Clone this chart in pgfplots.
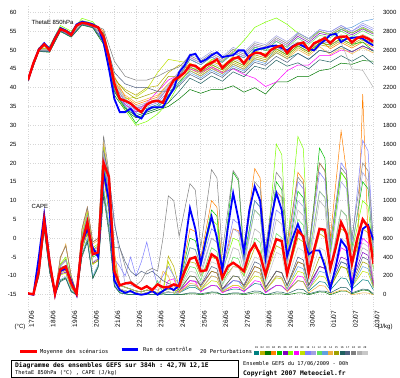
\documentclass[border=0pt]{standalone}
\usepackage{fontspec}
\setmainfont{Liberation Sans}
\setmonofont{DejaVu Sans Mono}
\usepackage{pgfplots}
\pgfplotsset{compat=1.18}
\usepackage{pgfplotstable}

\definecolor{c1}{HTML}{008080}
\definecolor{c2}{HTML}{B8B000}
\definecolor{c3}{HTML}{007800}
\definecolor{c4}{HTML}{FF8000}
\definecolor{c5}{HTML}{00C000}
\definecolor{c6}{HTML}{8000C0}
\definecolor{c7}{HTML}{80FF00}
\definecolor{c8}{HTML}{FF00FF}
\definecolor{c9}{HTML}{C0E000}
\definecolor{c10}{HTML}{8080FF}
\definecolor{c11}{HTML}{A0A0E0}
\definecolor{c12}{HTML}{60E060}
\definecolor{c13}{HTML}{60A0E0}
\definecolor{c14}{HTML}{F0B040}
\definecolor{c15}{HTML}{A0A000}
\definecolor{c16}{HTML}{206060}
\definecolor{c17}{HTML}{506080}
\definecolor{c18}{HTML}{808080}
\definecolor{c19}{HTML}{B0B0B0}
\definecolor{c20}{HTML}{C8C8C8}

% ThetaE 850hPa: mean (m) and control run (c), every 6 h
\pgfplotstableread{
s m c
0 42 42
1 46.5 46.5
2 50 50.2
3 51.5 51.8
4 50 50.3
5 53 53.3
6 55.5 55.8
7 55 55.2
8 54 54.2
9 56.5 56.8
10 57.2 57.5
11 57 57.2
12 56.5 56.8
13 56 56
14 53.5 52
15 48 45
16 41 37
17 37 33.5
18 36.5 33.5
19 35.8 34.4
20 34.5 32.5
21 33.5 31.8
22 35.5 34
23 36.3 34.8
24 36.5 34.8
25 36 34.8
26 39.5 37.5
27 42 39.7
28 42.8 44.1
29 44 45.9
30 46 48.6
31 45.8 49
32 44.6 46.8
33 45.9 47.5
34 46.6 48.6
35 47.5 49.4
36 45.2 48.1
37 46.6 48.4
38 47.7 48.6
39 48.1 49.9
40 46.4 49.9
41 48.4 47.7
42 49.2 49.9
43 49.2 50.3
44 48.4 50.6
45 50 51
46 50.8 51.2
47 51.2 50.5
48 49.2 49.9
49 50.8 51
50 51.6 51.7
51 52 51
52 50 50.3
53 51.8 49.9
54 52.4 51.5
55 53.2 52.6
56 51.8 54
57 53.2 54.3
58 53.5 52.1
59 53.6 53
60 52 53.2
61 53.2 53.4
62 53.6 53
63 53 52
64 52.2 51.2
}\thetaMC

% ThetaE 850hPa: 20 perturbations, every 12 h
\pgfplotstableread{
s p1 p2 p3 p4 p5 p6 p7 p8 p9 p10 p11 p12 p13 p14 p15 p16 p17 p18 p19 p20
0 41.9 42.1 41.8 42.2 41.9 42.1 42.3 41.9 42.1 42.1 42 42.2 41.9 42.1 42 41.8 42 42.1 42 42
2 49.8 50.2 49.6 50.3 49.9 50.1 50.6 49.8 50.2 50.1 49.9 50.4 49.8 50.2 50 49.7 50 50.1 50 50.1
4 49.7 50.3 49.4 50.5 49.8 50.2 51 49.7 50.4 50.2 49.9 50.6 49.6 50.3 50 49.5 50 50.2 50 50.1
6 55.2 55.8 54.9 56 55.3 55.7 56.5 55.2 55.9 55.7 55.4 56.1 55.1 55.8 55.5 55 55.5 55.7 55.5 55.6
8 53.7 54.3 53.4 54.5 53.8 54.2 55 53.7 54.4 54.2 53.9 54.6 53.6 54.3 54 53.5 54 54.2 54 54.1
10 56.9 57.5 56.6 57.7 57 57.4 58.4 56.9 57.6 57.4 57.1 57.8 56.8 57.5 57.2 56.7 57.2 57.4 57.2 57.3
12 56.2 56.8 55.9 57 56.3 56.7 57.5 56.2 56.9 56.7 56.4 57.1 56.1 56.8 56.5 56 56.5 56.7 56.5 56.6
14 52.5 54 51.5 55 52.5 53.5 54 52.5 54.5 53.5 54 53 52.5 54 53.5 52 54.5 55.5 53.5 54
16 40 42 38 43 39 40.5 39 39.5 41.5 41 42 39.5 39 41.5 42.5 39 44 47 40.5 41
18 35.5 39.5 34 37.5 35 36.5 34 35.5 37 36 37 34.5 35 38 39 34.5 41 43 36.5 37
20 33.5 38 32 35.5 30.5 34.5 30 33.5 37.5 34 35 32.5 33 36 37 32.5 40 42 34.5 35
22 34.5 40 33 36.5 34 35.5 31 36 39.5 35 36 33.5 34 37 38 33.5 40 42 35.5 36
24 35.5 40.5 34 37.5 35 36.5 33 39 44 36 37 34.5 35 38 39 34.5 39 43 36.5 37
26 38 44 35 41 37 40 36 42 47.5 39 40.5 38 37.5 41 43 36 39 44.5 40 41
28 41.5 46 37 43.5 43 44 41 43.5 47 43 44.5 42.5 41 42 43 39 40.5 45.5 43 44
30 44.5 45 39.5 46.5 47.5 48 45 45 46.5 47.5 49 45.5 44 44.5 45.5 42.5 43.5 48.5 46 48
32 43.1 43.6 38.5 45.1 46.1 46.6 45 44 45.1 46.1 47.6 44.1 42.6 43.1 44.1 41.1 42.1 47.1 44.6 46.6
34 45.1 45.6 39.5 47.1 48.1 48.6 47.5 45.5 47.1 48.1 49.6 46.1 44.6 45.1 46.1 43.1 44.1 49.1 46.6 48.6
36 43.7 44.2 39.5 45.7 46.7 47.2 47 44 45.7 46.7 48.2 44.7 43.2 43.7 44.7 41.7 42.7 47.7 45.2 47.2
38 46.2 46.7 40.5 48.2 49.2 49.7 49.5 45 48.2 49.2 50.7 47.2 45.7 46.2 47.2 44.2 45.2 50.2 47.7 49.7
40 44.9 45.4 38.8 46.9 47.9 48.4 52.5 43.5 46.9 47.9 49.4 45.9 44.4 44.9 45.9 42.9 43.9 48.9 46.4 48.4
42 47.7 48.2 40 49.7 50.7 51.2 56 42.5 49.7 50.7 52.2 50.7 47.2 47.7 48.7 45.7 46.7 51.7 49.2 51.2
44 46.9 47.4 38.3 48.9 49.9 50.4 57.4 40.3 48.9 49.9 51.4 49.9 46.4 46.9 47.9 44.9 45.9 50.9 48.4 50.4
46 49.3 49.8 41.5 51.3 50.3 52.8 58.5 41.5 51.3 52.3 53.8 52.3 50.8 49.3 50.3 47.3 48.3 53.3 50.8 52.8
48 47.7 48.2 41.5 49.7 48.7 51.2 56.8 44.5 49.7 50.7 52.2 50.7 49.2 47.7 48.7 45.7 46.7 51.7 49.2 51.2
50 49.1 50.6 43 52.1 51.1 53.6 54.5 46 52.1 54.6 54.6 53.1 51.6 50.1 51.1 46.6 49.1 54.1 51.6 52.1
52 47.5 49 43 50.5 49.5 52 53 46 50.5 53 53 51.5 50 48.5 49.5 45 47.5 52.5 50 50.5
54 49.9 51.4 44.5 52.9 51.9 54.4 55 48.5 52.9 55.4 55.4 53.9 52.4 50.9 51.9 47.4 49.9 54.9 52.4 52.9
56 49.3 50.8 45 50.3 51.3 53.8 54 48.5 52.3 54.8 54.8 53.3 51.8 48.8 51.3 46.8 49.3 54.3 51.8 52.3
58 51 52.5 46.5 52 53 55.5 55.5 50 54 56.5 56.5 55 55.5 50.5 53 48.5 51 56 52 54
60 49.5 51 46.2 50.5 51.5 54 54.5 49.5 52.5 55 55 53.5 56 49 51.5 47 49.5 54.5 45 52.5
62 51.1 52.6 47.2 52.1 52.1 55.6 55.8 51 54.1 56.6 57.1 55.1 57.6 50.6 53.1 48.6 51.1 56.1 44.6 54.1
64 49.7 51.2 47 50.7 49.7 54.2 54.5 50 52.7 55.2 55.7 53.7 58.2 49.2 51.7 46.2 49.7 54.7 40 52.7
}\thetaP

% CAPE: mean (m) and control run (c), every 6 h
\pgfplotstableread{
s m c
0 15 10
1 5 0
2 250 400
3 790 850
4 350 350
5 10 0
6 270 250
7 300 280
8 120 150
9 10 0
10 550 550
11 770 700
12 430 500
13 450 400
14 1400 1300
15 1250 1000
16 250 150
17 100 50
18 120 20
19 130 40
20 90 10
21 60 0
22 90 10
23 50 40
24 110 0
25 80 40
26 80 80
27 110 50
28 90 100
29 250 500
30 380 920
31 400 700
32 250 330
33 260 600
34 430 830
35 390 600
36 180 260
37 300 700
38 340 1080
39 300 800
40 250 450
41 450 900
42 540 1150
43 420 1000
44 210 400
45 420 800
46 590 1080
47 570 900
48 220 410
49 450 600
50 680 750
51 620 600
52 230 430
53 480 470
54 700 470
55 690 300
56 280 60
57 500 300
58 770 580
59 650 500
60 330 70
61 600 400
62 800 700
63 720 740
64 330 580
}\capeMC

\pgfplotsset{
  pert/.style={line width=0.5pt, mark=none},
  capeline/.style={table/header=false, table/row sep=\\, table/x expr=\coordindex, table/y index=0},
  common/.style={
    at={(28pt,52pt)}, anchor=south west, scale only axis,
    width=345.5pt, height=321.2pt,
    xmin=0, xmax=64,
    axis line style={draw=none},
    major tick length=0pt,
    tick label style={font=\fontsize{6}{7}\selectfont},
  },
}

\begin{document}
\begin{tikzpicture}
\fill[white] (0pt,0pt) rectangle (400pt,378pt);

\begin{axis}[
  common,
  ymin=-23.3, ymax=62,
  xtick={0,4,...,64}, xticklabel=\empty,
  ytick={-15,-10,...,60},
  xmajorgrids, ymajorgrids,
  grid style={gray!32, dotted, line width=0.6pt},
  ytick pos=left, yticklabel pos=left,
  yticklabel style={/pgf/number format/assume math mode=true, xshift=-8pt},
]
\pgfplotsinvokeforeach{1,...,20}{
  \addplot[pert, draw=c#1] table[x=s, y=p#1] {\thetaP};
}
\addplot[blue, line width=1.8pt] table[x=s, y=c] {\thetaMC};
\addplot[red, line width=2.4pt] table[x=s, y=m] {\thetaMC};
\end{axis}

\begin{axis}[
  common,
  ymin=-332, ymax=3080,
  xtick=\empty,
  ytick={0,200,...,3000},
  ytick pos=right, yticklabel pos=right,
  yticklabel style={/pgf/number format/assume math mode=true, /pgf/number format/1000 sep={}, xshift=6pt},
]
\addplot[pert, draw=c1] table[capeline] {15\\5\\240\\800\\340\\10\\260\\280\\100\\10\\560\\760\\420\\440\\1450\\1050\\240\\60\\40\\30\\20\\10\\20\\30\\10\\20\\30\\20\\20\\50\\80\\76\\40\\70\\100\\93\\30\\45\\60\\58\\40\\80\\120\\111\\30\\65\\100\\94\\40\\95\\150\\139\\40\\90\\140\\131\\50\\115\\180\\168\\60\\110\\160\\149\\50\\};
\addplot[pert, draw=c2] table[capeline] {15\\5\\260\\830\\360\\10\\320\\380\\160\\10\\620\\850\\480\\520\\1550\\1150\\350\\100\\80\\60\\40\\30\\50\\40\\20\\40\\410\\300\\80\\215\\350\\335\\200\\300\\400\\375\\150\\225\\300\\290\\200\\350\\500\\468\\180\\350\\520\\488\\200\\400\\600\\560\\200\\425\\650\\610\\250\\475\\700\\660\\300\\500\\700\\658\\280\\};
\addplot[pert, draw=c3] table[capeline] {15\\0\\200\\700\\250\\0\\150\\180\\40\\0\\420\\580\\180\\300\\1100\\700\\100\\20\\10\\0\\0\\0\\10\\0\\0\\10\\0\\0\\0\\5\\10\\9\\0\\10\\20\\18\\0\\5\\10\\9\\0\\10\\20\\18\\0\\5\\10\\9\\0\\10\\20\\18\\0\\15\\30\\27\\0\\20\\40\\37\\10\\30\\50\\45\\0\\};
\addplot[pert, draw=c4] table[capeline] {15\\5\\280\\880\\380\\10\\400\\520\\200\\20\\700\\930\\560\\600\\1550\\1200\\450\\100\\80\\60\\40\\30\\50\\40\\20\\40\\60\\50\\100\\400\\700\\670\\400\\700\\1000\\930\\300\\500\\700\\680\\500\\920\\1340\\1241\\350\\725\\1100\\1035\\450\\875\\1300\\1220\\500\\950\\1400\\1320\\600\\1170\\1740\\1300\\200\\400\\2130\\600\\100\\};
\addplot[pert, draw=c5] table[capeline] {15\\5\\230\\790\\330\\10\\250\\270\\90\\10\\540\\720\\400\\430\\1400\\1000\\220\\100\\80\\60\\40\\30\\50\\40\\20\\40\\60\\50\\100\\350\\600\\575\\350\\625\\900\\835\\250\\775\\1300\\1210\\400\\700\\1000\\930\\300\\750\\1200\\1115\\350\\725\\1100\\1030\\400\\980\\1560\\1449\\450\\875\\1300\\1220\\500\\850\\1200\\1125\\450\\};
\addplot[pert, draw=c6] table[capeline] {15\\0\\230\\760\\300\\0\\220\\240\\80\\0\\500\\680\\340\\380\\1300\\900\\180\\60\\40\\30\\20\\10\\20\\30\\10\\20\\30\\20\\40\\95\\150\\145\\100\\175\\250\\231\\60\\105\\150\\145\\100\\200\\300\\278\\80\\165\\250\\235\\100\\225\\350\\325\\100\\200\\300\\282\\120\\260\\400\\375\\150\\300\\450\\418\\130\\};
\addplot[pert, draw=c7] table[capeline] {15\\5\\270\\850\\370\\10\\330\\400\\170\\10\\640\\880\\500\\540\\1600\\1180\\330\\20\\10\\0\\0\\0\\10\\0\\0\\10\\0\\0\\80\\290\\500\\480\\300\\550\\800\\745\\250\\425\\600\\575\\350\\625\\900\\840\\300\\950\\1600\\1490\\500\\1090\\1680\\1552\\400\\750\\1100\\1035\\450\\875\\1300\\1215\\450\\725\\1000\\940\\400\\};
\addplot[pert, draw=c8] table[capeline] {15\\5\\250\\820\\350\\10\\270\\250\\110\\10\\580\\780\\440\\460\\1500\\1080\\260\\60\\40\\30\\20\\10\\20\\30\\10\\20\\150\\170\\20\\85\\150\\138\\30\\65\\100\\92\\20\\50\\80\\75\\30\\90\\150\\137\\20\\60\\100\\94\\40\\120\\200\\186\\60\\180\\300\\278\\80\\290\\500\\465\\150\\375\\600\\550\\100\\};
\addplot[pert, draw=c9] table[capeline] {15\\0\\220\\740\\290\\0\\210\\230\\70\\0\\490\\660\\320\\370\\1250\\880\\170\\60\\40\\30\\20\\10\\20\\30\\10\\20\\350\\200\\30\\65\\100\\95\\50\\100\\150\\139\\40\\70\\100\\96\\60\\130\\200\\185\\50\\115\\180\\168\\60\\155\\250\\231\\60\\130\\200\\187\\70\\185\\300\\278\\80\\165\\250\\232\\70\\};
\addplot[pert, draw=c10] table[capeline] {15\\5\\255\\820\\355\\10\\310\\370\\150\\10\\610\\840\\470\\510\\1530\\1130\\380\\300\\200\\400\\200\\350\\560\\300\\100\\200\\300\\200\\100\\300\\500\\480\\300\\500\\700\\655\\250\\525\\800\\755\\350\\675\\1000\\930\\300\\600\\900\\850\\400\\800\\1200\\1125\\450\\875\\1300\\1220\\500\\950\\1400\\1315\\550\\1095\\1640\\1526\\500\\};
\addplot[pert, draw=c11] table[capeline] {15\\5\\250\\810\\350\\10\\280\\300\\130\\10\\560\\800\\450\\470\\1500\\1250\\800\\400\\120\\100\\80\\60\\90\\70\\50\\80\\100\\80\\80\\240\\400\\385\\250\\425\\600\\560\\200\\450\\700\\660\\300\\600\\900\\840\\300\\700\\1100\\1025\\350\\675\\1000\\935\\350\\725\\1100\\1030\\400\\800\\1200\\1125\\450\\875\\1300\\1210\\400\\};
\addplot[pert, draw=c12] table[capeline] {15\\5\\240\\810\\340\\10\\260\\290\\100\\10\\600\\790\\430\\450\\1380\\1000\\230\\60\\40\\30\\20\\10\\20\\30\\150\\20\\30\\20\\60\\180\\300\\285\\150\\325\\500\\460\\100\\250\\400\\380\\200\\400\\600\\555\\150\\400\\650\\605\\200\\500\\800\\740\\200\\450\\700\\655\\250\\575\\900\\840\\300\\550\\800\\745\\250\\};
\addplot[pert, draw=c13] table[capeline] {15\\0\\210\\720\\260\\0\\160\\190\\50\\0\\440\\600\\200\\320\\1150\\750\\110\\20\\10\\0\\0\\0\\10\\0\\0\\10\\0\\0\\20\\60\\100\\96\\60\\130\\200\\184\\40\\95\\150\\141\\60\\155\\250\\230\\50\\125\\200\\186\\60\\180\\300\\276\\60\\155\\250\\233\\80\\215\\350\\323\\80\\190\\300\\277\\70\\};
\addplot[pert, draw=c14] table[capeline] {15\\5\\270\\860\\370\\10\\380\\540\\190\\20\\680\\900\\540\\580\\1620\\1250\\450\\60\\40\\30\\20\\10\\20\\30\\10\\250\\200\\20\\20\\70\\120\\113\\50\\125\\200\\183\\30\\65\\100\\95\\50\\150\\250\\229\\40\\120\\200\\183\\30\\90\\150\\137\\20\\60\\100\\91\\10\\30\\50\\45\\0\\10\\20\\18\\0\\};
\addplot[pert, draw=c15] table[capeline] {15\\0\\225\\750\\295\\0\\230\\260\\90\\0\\480\\650\\330\\360\\1280\\870\\170\\100\\80\\60\\40\\30\\50\\40\\20\\40\\60\\50\\40\\120\\200\\188\\80\\165\\250\\231\\60\\130\\200\\188\\80\\190\\300\\277\\70\\160\\250\\234\\90\\220\\350\\325\\100\\250\\400\\368\\80\\190\\300\\279\\90\\220\\350\\323\\80\\};
\addplot[pert, draw=c16] table[capeline] {15\\0\\190\\690\\240\\0\\140\\170\\30\\0\\400\\560\\170\\290\\1050\\650\\90\\20\\10\\0\\0\\0\\10\\0\\0\\10\\0\\0\\0\\10\\20\\19\\10\\20\\30\\27\\0\\10\\20\\19\\10\\25\\40\\36\\0\\15\\30\\28\\10\\35\\60\\55\\10\\25\\40\\38\\20\\50\\80\\74\\20\\40\\60\\55\\10\\};
\addplot[pert, draw=c17] table[capeline] {15\\5\\245\\800\\340\\10\\290\\310\\140\\10\\570\\820\\460\\480\\1520\\1280\\750\\500\\350\\250\\200\\250\\220\\250\\200\\150\\120\\100\\50\\125\\200\\190\\100\\200\\300\\276\\60\\130\\200\\190\\100\\225\\350\\323\\80\\165\\250\\235\\100\\250\\400\\370\\100\\200\\300\\280\\100\\225\\350\\327\\120\\260\\400\\370\\100\\};
\addplot[pert, draw=c18] table[capeline] {15\\5\\280\\880\\380\\10\\400\\520\\200\\20\\700\\930\\560\\600\\1690\\1300\\500\\500\\300\\150\\100\\150\\250\\280\\250\\600\\1050\\1000\\620\\900\\1180\\1112\\500\\915\\1330\\1242\\450\\885\\1320\\1233\\450\\825\\1200\\1130\\500\\900\\1300\\1225\\550\\900\\1250\\1175\\500\\950\\1400\\1315\\550\\950\\1350\\1275\\600\\1000\\1400\\1315\\550\\};
\addplot[pert, draw=c19] table[capeline] {15\\5\\250\\820\\350\\10\\300\\360\\150\\10\\600\\830\\470\\500\\1520\\1100\\300\\100\\80\\60\\40\\30\\50\\40\\20\\40\\60\\50\\80\\240\\400\\380\\200\\400\\600\\555\\150\\325\\500\\475\\250\\475\\700\\655\\250\\525\\800\\750\\300\\600\\900\\840\\300\\650\\1000\\930\\300\\600\\900\\830\\200\\350\\500\\465\\150\\};
\addplot[pert, draw=c20] table[capeline] {15\\0\\240\\770\\310\\0\\230\\250\\90\\0\\510\\700\\350\\390\\1320\\920\\190\\60\\40\\30\\20\\10\\20\\30\\10\\20\\30\\20\\50\\150\\250\\237\\120\\235\\350\\325\\100\\200\\300\\285\\150\\275\\400\\372\\120\\285\\450\\420\\150\\325\\500\\465\\150\\325\\500\\468\\180\\390\\600\\560\\200\\375\\550\\513\\180\\};
\addplot[blue, line width=1.8pt] table[x=s, y=c] {\capeMC};
\addplot[red, line width=2.4pt] table[x=s, y=m] {\capeMC};
\end{axis}

\begin{scope}[x=1pt,y=1pt]
% labels inside the plot
\node[anchor=west, inner sep=0, font=\fontsize{6}{7}\selectfont] at (31.5,355.3) {ThetaE 850hPa};
\node[anchor=west, inner sep=0, font=\fontsize{6}{7}\selectfont] at (31.5,171.3) {CAPE};

% date labels
\foreach \i/\d in {0/{17/06},1/{18/06},2/{19/06},3/{20/06},4/{21/06},5/{22/06},6/{23/06},7/{24/06},8/{25/06},9/{26/06},10/{27/06},11/{28/06},12/{29/06},13/{30/06},14/{01/07},15/{02/07},16/{03/07}}{
  \node[rotate=90, inner sep=0, font=\fontsize{6.5}{7}\selectfont] at ({28+21.6*\i+3.5},59) {\d};
}
\node[inner sep=0, font=\fontsize{6}{7}\selectfont] at (20,51) {(°C)};
\node[inner sep=0, font=\fontsize{6}{7}\selectfont] at (385,51) {(J/kg)};

% legend
\draw[red, line width=3pt] (20,26.3) -- (36.7,26.3);
\node[anchor=west, inner sep=0, font=\ttfamily\fontsize{5.4}{6}\selectfont] at (40,26.3) {Moyenne des scénarios};
\draw[blue, line width=2.5pt] (121.7,28.7) -- (138,28.7);
\node[anchor=west, inner sep=0, font=\ttfamily\fontsize{5.4}{6}\selectfont] at (143,28.7) {Run de contrôle};
\node[anchor=west, inner sep=0, font=\ttfamily\fontsize{5.4}{6}\selectfont] at (200,26.3) {20 Perturbations};
\foreach \i in {1,...,20}{
  \fill[c\i] ({254+(\i-1)*5.7},23) rectangle +(5.2,4);
  \node[inner sep=0, font=\ttfamily\fontsize{2.6}{3}\selectfont] at ({254+(\i-1)*5.7+2.6},30.5) {\ifnum\i<10 0\fi\i};
}

% caption box
\draw[line width=0.8pt] (11.7,0.5) rectangle (238.3,18);
\node[anchor=west, inner sep=0, font=\ttfamily\bfseries\fontsize{6.3}{7}\selectfont] at (15,12.5) {Diagramme des ensembles GEFS sur 384h : 42,7N 12,1E};
\node[anchor=west, inner sep=0, font=\ttfamily\fontsize{5.3}{6}\selectfont] at (15,4.7) {ThetaE 850hPa (°C) , CAPE (J/kg)};
\node[anchor=west, inner sep=0, font=\ttfamily\fontsize{5.3}{6}\selectfont] at (243,14.7) {Ensemble GEFS du 17/06/2009 - 00h};
\node[anchor=west, inner sep=0, font=\ttfamily\bfseries\fontsize{6.3}{7}\selectfont] at (243,4.7) {Copyright 2007 Meteociel.fr};

\pgfresetboundingbox
\path[use as bounding box] (0,0) rectangle (400,378);
\end{scope}
\end{tikzpicture}
\end{document}
